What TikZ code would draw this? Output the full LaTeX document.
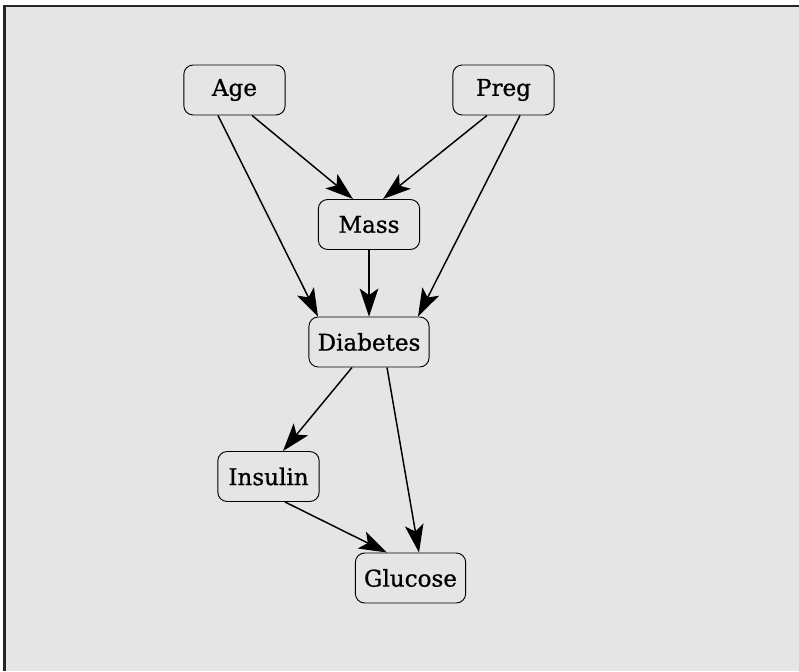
\documentclass[tikz,border=0pt]{standalone}
\usepackage{fontspec}
\setmainfont{DejaVu Serif}
\newfontfamily\nodefont{DejaVu Serif}[FakeBold=0.9]
\usetikzlibrary{arrows.meta,calc}

\begin{document}
\begin{tikzpicture}
        [x=0.75pt, y=-0.75pt,
        node/.style={rectangle, rounded corners=7pt, draw, fill=black!10, line width=0.7pt,
            minimum width=76pt, minimum height=37.5pt, inner xsep=6.5pt,
            font=\nodefont\fontsize{17.3}{20}\selectfont},
        edge/.style={line width=1.1pt, -{Stealth[length=21pt, width=14pt, inset=5pt]}}]

        % Canvas with a frame on the left and top
        \useasboundingbox (0,0) rectangle (799,671);
        \fill[black!10] (4.5,6) rectangle (799,671);
        \draw[line width=1.6pt, black!85] (4.5,671) -- (4.5,6) -- (799,6);

        % Variables
        \node[node] (Age) at (234.5,90) {Age};
        \node[node] (Preg) at (503.5,90) {Preg};
        \node[node] (Mass) at (369,224.5) {Mass};
        \node[node] (Diabetes) at (369,342) {Diabetes};
        \node[node] (Insulin) at (268.5,476.5) {Insulin};
        \node[node] (Glucose) at (410.5,578) {Glucose};

        % Dependencies
        \draw[edge] ($(Age.south)+(17.5,0)$) -- ($(Mass.north)+(-16,0)$);
        \draw[edge] ($(Age.south)+(-16.5,0)$) -- ($(Diabetes.north)+(-51,0)$);
        \draw[edge] ($(Preg.south)+(-16.5,0)$) -- ($(Mass.north)+(14,0)$);
        \draw[edge] ($(Preg.south)+(16.5,0)$) -- ($(Diabetes.north)+(49,0)$);
        \draw[edge] (Mass) -- (Diabetes);
        \draw[edge] ($(Diabetes.south)+(-17,0)$) -- ($(Insulin.north)+(14.5,0)$);
        \draw[edge] ($(Diabetes.south)+(18,0)$) -- ($(Glucose.north)+(8.5,0)$);
        \draw[edge] ($(Insulin.south)+(16.5,0)$) -- ($(Glucose.north)+(-23.5,0)$);

    \end{tikzpicture}
\end{document}
